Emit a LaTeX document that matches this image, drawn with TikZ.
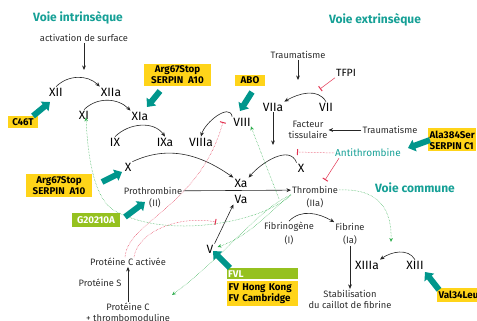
\documentclass[tikz,border=0pt]{standalone}
\usepackage{fontspec}
\setmainfont{Fira Sans}
\usetikzlibrary{arrows.meta,calc}
\definecolor{tealc}{RGB}{22,160,150}
\definecolor{tarr}{RGB}{0,150,140}
\definecolor{yelc}{RGB}{255,212,25}
\definecolor{grnc}{RGB}{149,193,31}
\definecolor{grc}{RGB}{50,175,80}
\definecolor{redc}{RGB}{226,50,80}
\definecolor{txtc}{RGB}{45,45,45}
\begin{document}
\begin{tikzpicture}[x=1pt,y=1pt,
 lbl/.style={font=\fontsize{9.3}{11.5}\selectfont, text=txtc, inner sep=1pt, align=center},
 num/.style={font=\fontsize{12}{13}\selectfont, text=black, inner sep=1pt},
 ttl/.style={font=\bfseries\fontsize{12}{13}\selectfont, text=tealc, inner sep=1pt},
 ybox/.style={fill=yelc, font=\bfseries\fontsize{9.8}{10.8}\selectfont, align=center, inner sep=1.5pt},
 gbox/.style={fill=grnc, text=white, font=\bfseries\fontsize{9.8}{10.8}\selectfont, inner sep=1pt},
 arr/.style={-{Stealth[length=4.5pt,width=3.8pt]}, line width=0.6pt, black!85},
 big/.style={-{Triangle[length=7pt,width=12pt]}, line width=6pt, tarr},
 inh/.style={-{Bar[width=6pt,line width=1pt]}, redc, line width=0.5pt},
 inhd/.style={inh, densely dotted},
 gact/.style={-{Stealth[length=4pt,width=3.5pt]}, grc, line width=0.5pt, densely dotted},
]
\useasboundingbox (0,0) rectangle (477,321);

% titles
\node[ttl] (vint) at (78,303) {Voie intrinsèque};
\node[ttl] (vext) at (375,301) {Voie extrinsèque};
\node[ttl] (vcom) at (415,133) {Voie commune};

% factors
\node[lbl] (act) at (84,283) {activation de surface};
\coordinate (actend) at (84,251);
\node[num] (XII) at (56,229) {XII};
\node[num] (XIIa) at (111,229) {XIIa};
\node[num] (XI) at (84,206) {XI};
\node[num] (XIa) at (140,205) {XIa};
\node[num] (IX) at (115,179) {IX};
\node[num] (IXa) at (165,179) {IXa};
\node[num] (VIIIa) at (201,179) {VIIIa};
\node[num] (VIII) at (242,199) {VIII};
\node[num] (VIIa) at (273,214) {VIIa};
\node[num] (VII) at (326,214) {VII};
\node[lbl] (tr1) at (298,266) {Traumatisme};
\coordinate (tr1end) at (298,241);
\node[num, font=\fontsize{10.5}{12}\selectfont] (TFPI) at (346,248) {TFPI};
\coordinate (tfpibar) at (320,232);
\node[lbl] (FT) at (308,191) {Facteur\\tissulaire};
\node[lbl] (tr2) at (390,191) {Traumatisme};
\coordinate (VIIaend) at (273,176);
\node[num] (Xr) at (301,153) {X};
\node[num] (Xa) at (241,138) {Xa};
\node[num] (Va) at (241,122) {Va};
\node[lbl, text=tealc, font=\fontsize{10}{11}\selectfont] (anti) at (368,168) {Antithrombine};
\coordinate (xbar) at (297,169);
\coordinate (thrbar) at (325,141);
\node[lbl] (thr) at (315,131) {Thrombine};
\node[lbl] (thr2) at (315,118) {(IIa)};
\node[lbl] (pro) at (153,130) {Prothrombine};
\node[lbl] (pro2) at (155,118) {(II)};
\node[num] (Xl) at (128,154) {X};
\node[num] (V) at (210,72) {V};
\node[lbl] (fg) at (289,94) {Fibrinogène};
\node[lbl] (fg2) at (289,81) {(I)};
\node[lbl] (fb) at (350,94) {Fibrine};
\node[lbl] (fb2) at (350,81) {(Ia)};
\node[lbl] (stab) at (350,21.5) {Stabilisation\\du caillot de fibrine};
\node[num] (XIIIa) at (367,56) {XIIIa};
\node[num] (XIII) at (415,56) {XIII};
\coordinate (xiiiend) at (391,79);
\node[lbl] (pca) at (128,59) {Protéine C activée};
\node[lbl] (ps) at (100,38) {Protéine S};
\node[lbl] (pc) at (128,8.5) {Protéine C\\+ thrombomoduline};
\coordinate (pcend) at (172,26);

% mutation boxes
\node[ybox, minimum width=67pt, minimum height=22pt] (arg1) at (177.5,246) {Arg67Stop\\SERPIN\enspace A10};
\node[ybox, minimum width=30pt, minimum height=12pt] (c46) at (23,199) {C46T};
\node[ybox, minimum width=30pt, minimum height=11pt] (abo) at (250,240.5) {ABO};
\node[ybox, minimum width=66pt, minimum height=23pt] (arg2) at (59,135.5) {Arg67Stop\\SERPIN\enspace A10};
\node[gbox, minimum width=48pt, minimum height=14pt] (g20) at (96,101) {G20210A};
\node[gbox, anchor=north west, text width=69pt, minimum height=11pt, align=left] (fvl) at (227,53) {FVL};
\node[ybox, anchor=north west, text width=68pt, minimum height=25pt, align=left] (fvhk) at (227,40) {FV Hong Kong\\FV Cambridge};
\node[ybox, anchor=west, minimum height=23pt, align=left] (ala) at (428,181) {Ala384Ser\\SERPIN C1};
\node[ybox, anchor=west, minimum height=14pt] (val) at (437,26) {Val34Leu};

% black arrows
\draw[arr] (act) -- (actend);
\draw[arr] (XII.north) to[out=45,in=135] (XIIa.north west);
\draw[arr] (XI.north) to[out=45,in=135] (XIa.north west);
\draw[arr] (IX.north) to[out=45,in=125] (IXa.north);
\draw[arr] (VIII.north west) to[out=100,in=75] (VIIIa.north);
\draw[arr] (tr1) -- (tr1end);
\draw[arr] (VII.north) to[out=120,in=30] (VIIa.north east);
\draw[arr] (VIIa) -- (VIIaend);
\draw[arr] (tr2) -- (FT);
\draw[arr] (Xr.north west) to[out=110,in=50] (Xa.north east);
\draw[arr] (Xl.north east) to[out=25,in=145] (Xa.north west);
\draw[arr] (pro) -- (thr);
\draw[arr] (V.north east) -- (Va.south west);
\draw[arr] (fg.north) to[out=45,in=150] (fb.north west);
\draw[arr] (fb2) -- (stab);
\draw[arr] (XIII.north) to[out=120,in=35] (XIIIa.north east);
\draw[arr] (pc) -- (pca);

% inhibitions
\draw[inh] (TFPI.south west) -- (tfpibar);
\draw[inhd] (anti.west) -- (xbar);
\draw[inh] ($(anti.south west)+(5,0)$) -- (thrbar);
\draw[inhd] ($(pca.north)+(-3,0)$) .. controls (128,100) and (200,115) .. (223,199);
\draw[inhd] ($(pca.north)+(6,0)$) .. controls (138,90) and (180,106) .. (216,99);

% green activations
\draw[gact] ($(thr.south west)+(-12,-4)$) -- ($(VIII.south east)+(-1,1)$);
\draw[gact] (thr.south west) .. controls (265,100) and (170,80) .. (115,110)
   .. controls (95,121) and (88,160) .. ($(XI.south)+(2,3)$);
\draw[gact] (thr.south west) .. controls (270,110) and (250,85) .. ($(V.east)+(3,2)$);
\draw[gact] (thr.south west) .. controls (258,112) and (225,65) .. (pcend);
\draw[gact] (thr.east) .. controls (380,133) and (392,110) .. (xiiiend);

% big teal arrows
\draw[big] ($(c46.center)+(10,6)$) -- ($(XII.center)+(-6,-10)$);
\draw[big] ($(arg1.center)+(-17.5,-16)$) -- ($(XIa.center)+(7,9)$);
\draw[big] ($(abo.center)+(2,-11.5)$) -- ($(VIII.center)+(-2,11)$);
\draw[big] ($(arg2.center)+(43,3.5)$) -- ($(Xl.center)+(-6,-5)$);
\draw[big] ($(g20.center)+(29,3)$) -- ($(pro2.center)+(-10,1)$);
\draw[big] ($(fvl.north west)+(3,0)$) -- ($(V.center)+(3,-2)$);
\draw[big] ($(ala.west)+(2,0)$) -- ($(anti.east)+(6,5)$);
\draw[big] ($(val.north west)+(2,-2)$) -- ($(XIII.center)+(10,-7)$);
\end{tikzpicture}
\end{document}
